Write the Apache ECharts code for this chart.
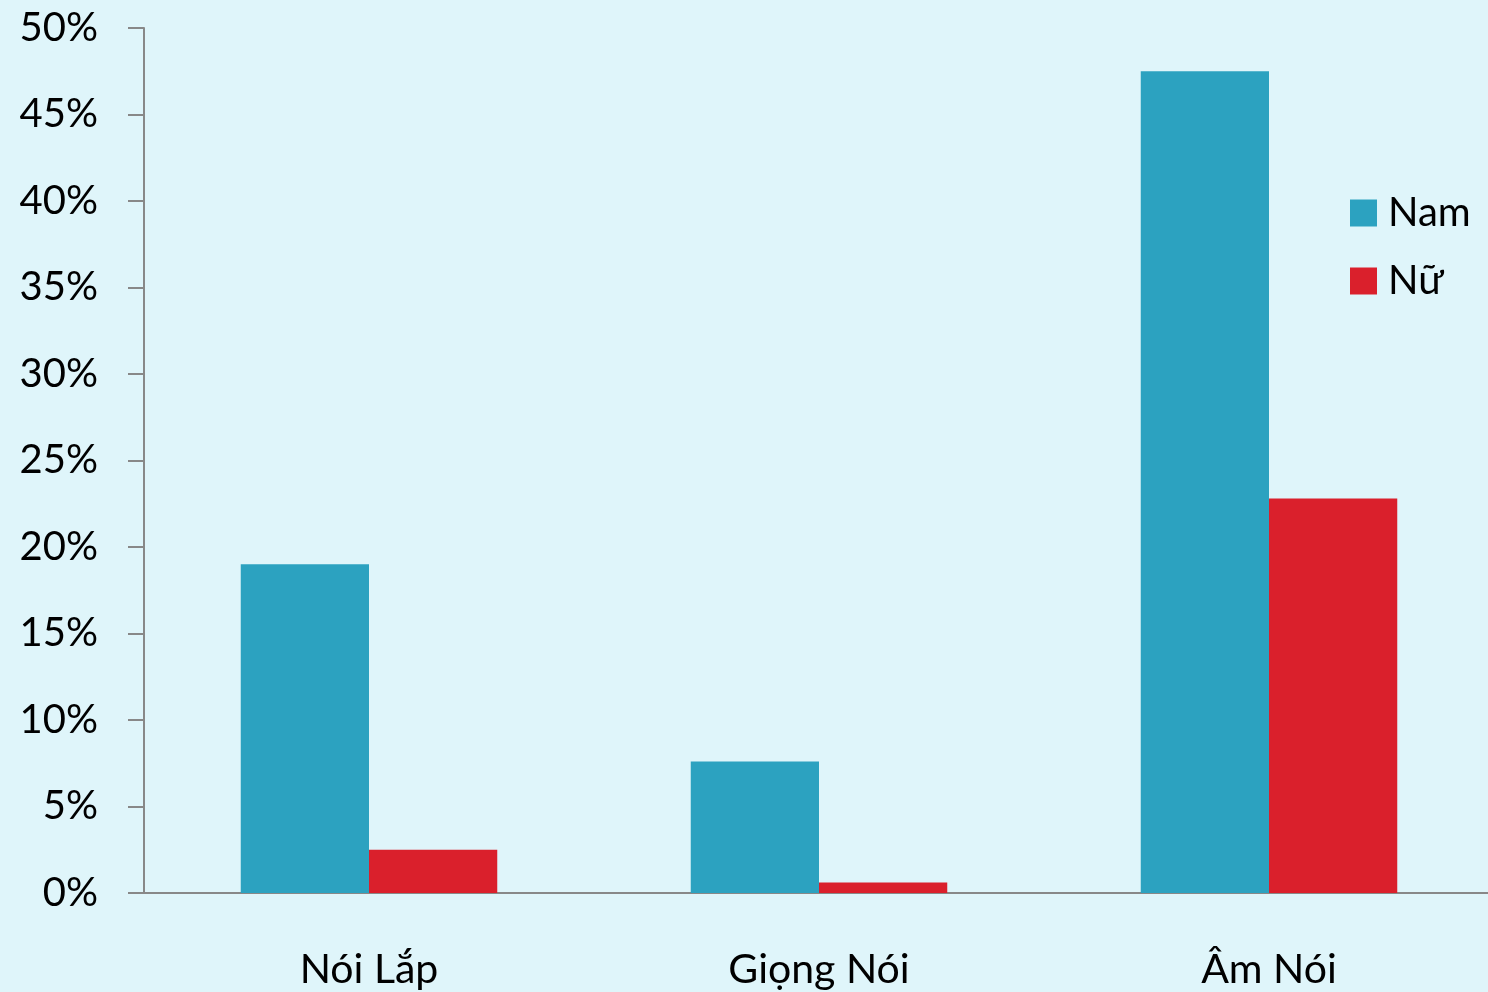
<!DOCTYPE html>
<html><head><meta charset="utf-8">
<script src="https://cdn.jsdelivr.net/npm/echarts@6/dist/echarts.min.js"></script>
<style>html,body{margin:0;padding:0;background:#dff5fa;overflow:hidden;}#c{width:1500px;height:992px;}</style>
</head><body><div id="c"></div>
<script>
var categories = ['Nói Lắp', 'Giọng Nói', 'Âm Nói'];
var namValues = [19.0, 7.6, 47.5];
var nuValues = [2.5, 0.6, 22.8];
var seriesNames = ['Nam', 'Nữ'];
var FONT = 'Lato';
var chart = echarts.init(document.getElementById('c'));
chart.setOption({
  backgroundColor: '#dff5fa',
  animation: false,
  grid: {left: 144, top: 28, width: 1350, height: 865},
  legend: {
    orient: 'vertical', left: 1345, top: 188,
    itemWidth: 27, itemHeight: 27, itemGap: 28,
    icon: 'rect',
    textStyle: {fontFamily: FONT, fontSize: 40, color: '#000', padding: [0, 0, 0, 6]},
    data: seriesNames
  },
  xAxis: {
    type: 'category', data: categories,
    axisLine: {lineStyle: {color: '#888', width: 2}},
    axisTick: {length: 15, lineStyle: {color: '#888', width: 2}},
    axisLabel: {fontFamily: FONT, fontSize: 41, color: '#000', margin: 56}
  },
  yAxis: {
    type: 'value', min: 0, max: 50, interval: 5,
    splitLine: {show: false},
    axisLine: {show: true, lineStyle: {color: '#888', width: 2}},
    axisTick: {show: true, length: 16, lineStyle: {color: '#888', width: 2}},
    axisLabel: {fontFamily: FONT, fontSize: 40, color: '#000', margin: 46, formatter: '{value}%'}
  },
  series: [
    {name: seriesNames[0], type: 'bar', data: namValues, barGap: '0%', barCategoryGap: '43%',
     itemStyle: {color: '#2ca2c0'}},
    {name: seriesNames[1], type: 'bar', data: nuValues, barGap: '0%', barCategoryGap: '43%',
     itemStyle: {color: '#da202c'}}
  ]
});
</script></body></html>
